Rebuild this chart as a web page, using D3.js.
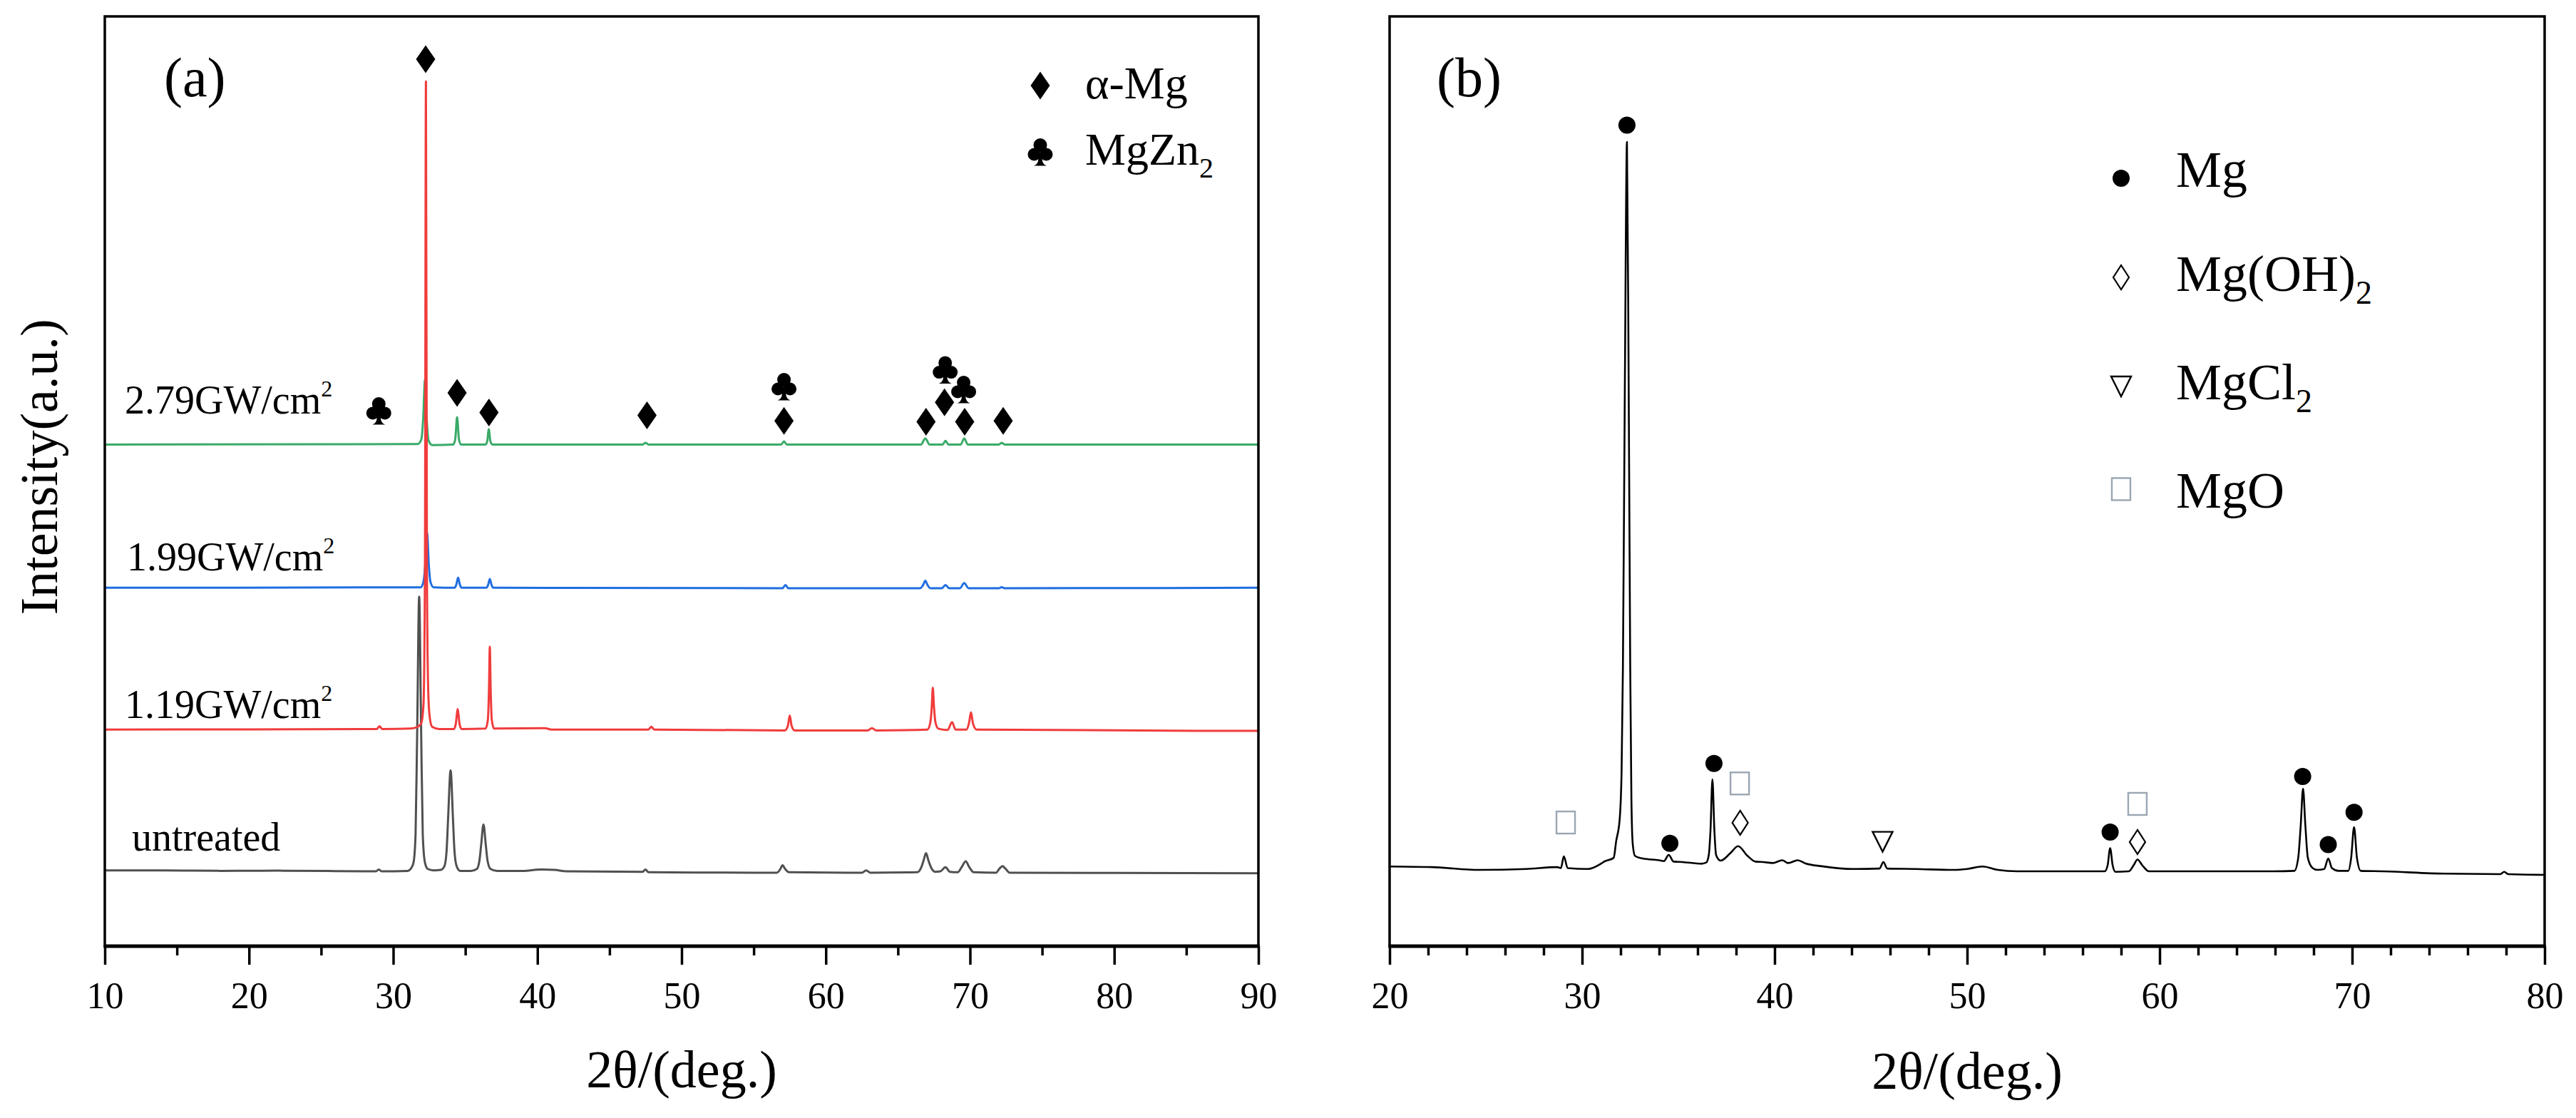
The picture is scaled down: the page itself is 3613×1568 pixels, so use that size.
<!DOCTYPE html>
<html>
<head>
<meta charset="utf-8">
<script src="https://cdn.jsdelivr.net/npm/d3@7"></script>
<style>
  body { margin: 0; background: #fff; }
  text { font-family: "Liberation Serif", "Times New Roman", serif; fill: #000; }
</style>
</head>
<body>
<div id="chart"></div>
<script>
// ---------- (a) XRD patterns, [2theta (deg), intensity (a.u., stacked as plotted)] ----------
const untreated = [[10,8.15],[14,8.15],[18,8.1],[22,8.12],[26,8.08],[28.8,8.05],[29.0,8.25],[29.2,8.05],[31.0,8.1],[31.25,8.4],[31.41,9.0],[31.55,12.0],[31.66,22.8],[31.8,37.6],[31.94,22.8],[32.05,12.0],[32.2,9.0],[32.4,8.3],[32.8,8.15],[33.3,8.2],[33.55,8.6],[33.7,10.2],[33.8,13.5],[33.98,18.9],[34.15,13.5],[34.25,10.2],[34.4,8.6],[34.65,8.1],[35.4,8.1],[35.8,8.3],[35.98,9.2],[36.1,10.9],[36.26,13.1],[36.42,10.9],[36.54,9.2],[36.75,8.3],[37.2,8.1],[39.0,8.1],[40.2,8.25],[41.2,8.2],[42.0,8.05],[47.3,8.0],[47.5,8.25],[47.7,7.95],[52,7.92],[56.6,7.9],[56.85,8.3],[57.0,8.7],[57.18,8.3],[57.45,7.95],[62.5,7.9],[62.8,8.15],[63.1,7.9],[66.35,7.95],[66.6,8.4],[66.78,9.2],[66.95,10.0],[67.12,9.2],[67.32,8.4],[67.6,8.0],[67.95,8.05],[68.3,8.5],[68.6,8.0],[69.15,7.95],[69.42,8.5],[69.7,9.13],[69.95,8.5],[70.25,7.95],[71.8,7.9],[72.05,8.35],[72.25,8.6],[72.45,8.35],[72.75,7.9],[80,7.88],[90,7.85]];
const gw119 = [[10,23.3],[20,23.32],[28.85,23.35],[29.05,23.65],[29.25,23.35],[31.2,23.4],[31.7,23.6],[31.95,24.0],[32.1,26.0],[32.2,40],[32.27,93.0],[32.34,40],[32.42,28],[32.52,24.8],[32.7,23.6],[33.2,23.35],[34.2,23.35],[34.34,23.9],[34.42,25.0],[34.47,25.5],[34.52,25.0],[34.6,23.9],[34.75,23.35],[36.4,23.4],[36.56,24.3],[36.64,27.5],[36.7,32.2],[36.76,27.5],[36.84,24.3],[37.0,23.4],[40.5,23.45],[41.0,23.3],[47.7,23.3],[47.9,23.6],[48.1,23.3],[57.15,23.2],[57.37,23.7],[57.5,24.8],[57.63,23.7],[57.85,23.2],[62.9,23.2],[63.2,23.45],[63.5,23.2],[67.05,23.3],[67.25,24.1],[67.35,25.8],[67.42,27.8],[67.5,25.8],[67.6,24.1],[67.8,23.4],[68.45,23.25],[68.75,24.1],[69.0,23.3],[69.75,23.3],[69.93,24.0],[70.07,25.15],[70.2,24.0],[70.45,23.3],[90,23.15]];
const gw199 = [[10,38.55],[31.9,38.6],[32.1,39.2],[32.22,41],[32.35,44.5],[32.47,41],[32.58,39.2],[32.8,38.6],[34.25,38.55],[34.38,38.9],[34.5,39.65],[34.62,38.9],[34.75,38.55],[36.45,38.55],[36.58,38.85],[36.7,39.5],[36.82,38.85],[36.95,38.55],[57.0,38.5],[57.2,38.85],[57.4,38.5],[66.55,38.5],[66.75,38.85],[66.9,39.3],[67.05,38.85],[67.25,38.5],[68.05,38.5],[68.3,38.85],[68.55,38.5],[69.3,38.5],[69.6,39.05],[69.9,38.5],[72.0,38.5],[72.2,38.62],[72.4,38.5],[90,38.55]];
const gw279 = [[10,53.95],[31.7,54.0],[31.95,54.5],[32.08,56.8],[32.2,60.9],[32.32,56.8],[32.45,54.4],[32.7,53.9],[34.15,53.95],[34.3,54.5],[34.43,56.9],[34.56,54.5],[34.7,53.95],[36.4,53.95],[36.52,54.3],[36.63,55.6],[36.74,54.3],[36.9,53.95],[47.3,53.95],[47.5,54.15],[47.7,53.95],[56.9,53.95],[57.1,54.3],[57.3,53.95],[66.6,53.95],[66.9,54.6],[67.2,53.95],[68.1,53.95],[68.3,54.35],[68.5,53.95],[69.35,53.95],[69.6,54.6],[69.85,53.95],[72.0,53.95],[72.2,54.15],[72.4,53.95],[90,53.95]];

const seriesA = [untreated, gw199, gw279, gw119];   // drawing order, red on top
const seriesColors = ["#505050", "#1f6ee0", "#3aaa68", "#f03c3c"];
const seriesLabels = [
  {main: "untreated", sup: ""},
  {main: "1.19GW/cm", sup: "2"},
  {main: "1.99GW/cm", sup: "2"},
  {main: "2.79GW/cm", sup: "2"}
];
const ticksA = [10, 20, 30, 40, 50, 60, 70, 80, 90];
const minorA = [15, 25, 35, 45, 55, 65, 75, 85];

// phase markers in (a): symbol, 2theta, intensity
const marksA = [
  {sym: "diamond", x: 32.25, y: 95.4},
  {sym: "club", x: 29.0, y: 57.6},
  {sym: "diamond", x: 34.43, y: 59.5},
  {sym: "diamond", x: 36.64, y: 57.4},
  {sym: "diamond", x: 47.6, y: 57.1},
  {sym: "club", x: 57.1, y: 60.2},
  {sym: "diamond", x: 57.1, y: 56.5},
  {sym: "diamond", x: 66.95, y: 56.4},
  {sym: "diamond", x: 68.23, y: 58.5},
  {sym: "club", x: 68.28, y: 62.0},
  {sym: "club", x: 69.56, y: 59.9},
  {sym: "diamond", x: 69.63, y: 56.4},
  {sym: "diamond", x: 72.3, y: 56.5}
];
const legendA = [
  {sym: "diamond", main: "\u03b1-Mg", sub: ""},
  {sym: "club", main: "MgZn", sub: "2"}
];

// ---------- (b) XRD pattern after corrosion ----------
const corroded = [[20,8.57],[22.2,8.5],[24.66,8.2],[27.1,8.3],[28.7,8.5],[28.9,8.4],[29.05,9.66],[29.25,8.4],[30.3,8.3],[31.0,8.9],[31.15,9.1],[31.64,9.5],[31.77,11.3],[31.95,13.6],[32.05,18.7],[32.12,30],[32.22,60],[32.33,86.5],[32.42,60],[32.5,30],[32.56,16],[32.63,11],[32.75,9.7],[33.15,9.43],[34.0,9.24],[34.25,9.15],[34.5,9.82],[34.75,9.1],[35.2,9.05],[36.2,8.87],[36.45,9.0],[36.58,9.8],[36.67,12.5],[36.77,17.94],[36.87,12.5],[36.96,9.8],[37.1,9.3],[37.2,9.2],[37.7,10.0],[38.1,10.75],[38.6,9.7],[39.0,9.1],[39.4,9.05],[39.9,8.94],[40.4,9.24],[40.7,8.94],[41.2,9.24],[41.6,8.9],[42.45,8.6],[44.1,8.3],[45.45,8.35],[45.65,9.05],[45.85,8.35],[47.3,8.3],[49.3,8.2],[50.0,8.3],[50.8,8.57],[51.6,8.2],[52.6,8.05],[56.2,8.05],[57.15,8.05],[57.3,8.7],[57.43,10.55],[57.56,8.7],[57.7,8.0],[58.4,8.05],[58.65,8.7],[58.85,9.32],[59.1,8.7],[59.45,8.05],[61.1,8.05],[65.9,8.05],[67.0,8.1],[67.2,9.5],[67.33,13.0],[67.45,16.95],[67.57,13.0],[67.7,9.5],[67.95,8.4],[68.2,8.2],[68.55,8.3],[68.76,9.43],[68.95,8.4],[69.3,8.1],[69.8,8.1],[69.95,9.5],[70.1,12.8],[70.25,9.5],[70.45,8.1],[71.6,8.05],[74.8,7.8],[77.7,7.75],[77.9,8.0],[78.1,7.75],[80,7.67]];
const ticksB = [20, 30, 40, 50, 60, 70, 80];
const minorB = d3.range(22, 80, 2).filter(v => v % 10 !== 0);

const marksB = [
  {sym: "square", x: 29.15, y: 13.3},
  {sym: "dot", x: 32.33, y: 88.3},
  {sym: "dot", x: 34.56, y: 11.07},
  {sym: "dot", x: 36.85, y: 19.65},
  {sym: "square", x: 38.19, y: 17.5},
  {sym: "odiamond", x: 38.21, y: 13.27},
  {sym: "triangle", x: 45.61, y: 11.3},
  {sym: "dot", x: 57.43, y: 12.27},
  {sym: "square", x: 58.85, y: 15.3},
  {sym: "odiamond", x: 58.85, y: 11.2},
  {sym: "dot", x: 67.43, y: 18.25},
  {sym: "dot", x: 68.76, y: 10.93},
  {sym: "dot", x: 70.1, y: 14.4}
];
const legendB = [
  {sym: "dot", main: "Mg", sub: ""},
  {sym: "odiamond", main: "Mg(OH)", sub: "2"},
  {sym: "triangle", main: "MgCl", sub: "2"},
  {sym: "square", main: "MgO", sub: ""}
];

(function xrdFigure(){
  const width = 3613, height = 1568;
  const pa = {left: 147, right: 1765, top: 23, bottom: 1327};
  const pb = {left: 1949, right: 3569, top: 23, bottom: 1327};

  const svg = d3.select("#chart")
    .append("svg")
    .attr("width", width)
    .attr("height", height)
    .attr("viewBox", [0, 0, width, height]);

  svg.append("rect").attr("width", width).attr("height", height).attr("fill", "#fff");

  // Scales
  const xA = d3.scaleLinear().domain([10, 90]).range([pa.left, pa.right]);
  const yA = d3.scaleLinear().domain([0, 100]).range([pa.bottom, pa.top]);
  const xB = d3.scaleLinear().domain([20, 80]).range([pb.left, pb.right]);
  const yB = d3.scaleLinear().domain([0, 100]).range([pb.bottom, pb.top]);

  // marker shapes
  const clubPath =
    "M-9.5,-9.5a9.5,9.5 0 1,0 19,0a9.5,9.5 0 1,0 -19,0Z" +
    "M-17.5,3.5a9,9 0 1,0 18,0a9,9 0 1,0 -18,0Z" +
    "M-0.5,3.5a9,9 0 1,0 18,0a9,9 0 1,0 -18,0Z" +
    "M-2,2L-3,13Q-4.5,18 -9,19.5L9,19.5Q4.5,18 3,13L2,2Z";

  function drawMark(g, sym) {
    if (sym === "diamond") {
      g.append("path").attr("d", "M0,-19.5L13.5,0L0,19.5L-13.5,0Z").attr("fill", "#000");
    } else if (sym === "club") {
      g.append("path").attr("d", clubPath).attr("fill", "#000");
    } else if (sym === "dot") {
      g.append("circle").attr("r", 12).attr("fill", "#000");
    } else if (sym === "odiamond") {
      g.append("path").attr("d", "M0,-17L11,0L0,17L-11,0Z")
        .attr("fill", "none").attr("stroke", "#000").attr("stroke-width", 2.2);
    } else if (sym === "triangle") {
      g.append("path").attr("d", "M-14,-13L14,-13L0,15Z")
        .attr("fill", "none").attr("stroke", "#000").attr("stroke-width", 2.4);
    } else if (sym === "square") {
      g.append("rect").attr("x", -13).attr("y", -15.5).attr("width", 26).attr("height", 31)
        .attr("fill", "none").attr("stroke", "#9aa6b2").attr("stroke-width", 2.4);
    }
  }

  function subText(sel, d, size, shift) {
    sel.append("tspan").text(d.main);
    if (d.sub) sel.append("tspan").attr("font-size", size).attr("dy", shift).text(d.sub);
  }

  function bottomAxis(g, x, p, majors, minors) {
    g.append("g")
      .attr("transform", `translate(0,${p.bottom})`)
      .call(d3.axisBottom(x).tickValues(minors).tickSize(13).tickFormat(""))
      .call(a => a.select(".domain").remove())
      .call(a => a.selectAll("line").attr("stroke", "#000").attr("stroke-width", 3.5));
    g.append("g")
      .attr("transform", `translate(0,${p.bottom})`)
      .call(d3.axisBottom(x).tickValues(majors).tickSize(26).tickPadding(24).tickFormat(d3.format("d")))
      .call(a => a.select(".domain").remove())
      .call(a => a.selectAll("line").attr("stroke", "#000").attr("stroke-width", 3.5))
      .call(a => a.selectAll("text").attr("font-size", 52)
        .attr("font-family", "'Liberation Serif', 'Times New Roman', serif").attr("fill", "#000"));
  }

  function frame(g, p) {
    g.append("rect")
      .attr("x", p.left).attr("y", p.top)
      .attr("width", p.right - p.left).attr("height", p.bottom - p.top)
      .attr("fill", "none").attr("stroke", "#000").attr("stroke-width", 3.5);
    g.append("line")
      .attr("x1", p.left - 1.5).attr("x2", p.right + 1.5)
      .attr("y1", p.bottom).attr("y2", p.bottom)
      .attr("stroke", "#000").attr("stroke-width", 5);
  }

  // ---------------- panel (a) ----------------
  const chartA = svg.append("g").classed("panelA", true);

  const lineA = d3.line()
    .x(d => xA(d[0]))
    .y(d => yA(d[1]))
    .curve(d3.curveMonotoneX);

  chartA.selectAll("path.series")
    .data(seriesA)
    .join("path")
    .classed("series", true)
    .attr("d", lineA)
    .attr("fill", "none")
    .attr("stroke", (d, i) => seriesColors[i])
    .attr("stroke-width", 3)
    .attr("stroke-linejoin", "round");

  frame(chartA, pa);
  bottomAxis(chartA, xA, pa, ticksA, minorA);

  chartA.selectAll("g.markA")
    .data(marksA)
    .join("g")
    .classed("markA", true)
    .attr("transform", d => `translate(${xA(d.x)},${yA(d.y)})`)
    .each(function(d) { drawMark(d3.select(this), d.sym); });

  // series labels (layout positions by eye)
  const labelPos = [[185, 1193], [175, 1007], [178, 800], [175, 580]];
  chartA.selectAll("text.slabel")
    .data(seriesLabels)
    .join("text")
    .classed("slabel", true)
    .attr("x", (d, i) => labelPos[i][0])
    .attr("y", (d, i) => labelPos[i][1])
    .attr("font-size", 56)
    .each(function(d) {
      const t = d3.select(this);
      t.append("tspan").text(d.main);
      if (d.sup) t.append("tspan").attr("font-size", 32).attr("dy", -24).text(d.sup);
    });

  chartA.append("text").attr("x", 230).attr("y", 135).attr("font-size", 78).text("(a)");

  // legend (a)
  const legA = chartA.selectAll("g.legA")
    .data(legendA)
    .join("g")
    .classed("legA", true)
    .attr("transform", (d, i) => `translate(1459,${120 + i * 93})`);
  legA.each(function(d) { drawMark(d3.select(this), d.sym); });
  legA.append("text")
    .attr("x", 63)
    .attr("y", 18)
    .attr("font-size", 64)
    .each(function(d) { subText(d3.select(this), d, 40, 18); });

  chartA.append("text")
    .attr("x", (pa.left + pa.right) / 2)
    .attr("y", 1525)
    .attr("text-anchor", "middle")
    .attr("font-size", 74)
    .text("2\u03b8/(deg.)");

  chartA.append("text")
    .attr("transform", "translate(80,655) rotate(-90)")
    .attr("text-anchor", "middle")
    .attr("font-size", 74)
    .text("Intensity(a.u.)");

  // ---------------- panel (b) ----------------
  const chartB = svg.append("g").classed("panelB", true);

  const lineB = d3.line()
    .x(d => xB(d[0]))
    .y(d => yB(d[1]))
    .curve(d3.curveMonotoneX);

  chartB.append("path")
    .datum(corroded)
    .attr("d", lineB)
    .attr("fill", "none")
    .attr("stroke", "#000")
    .attr("stroke-width", 2.6)
    .attr("stroke-linejoin", "round");

  frame(chartB, pb);
  bottomAxis(chartB, xB, pb, ticksB, minorB);

  chartB.selectAll("g.markB")
    .data(marksB)
    .join("g")
    .classed("markB", true)
    .attr("transform", d => `translate(${xB(d.x)},${yB(d.y)})`)
    .each(function(d) { drawMark(d3.select(this), d.sym); });

  chartB.append("text").attr("x", 2015).attr("y", 135).attr("font-size", 78).text("(b)");

  const legRows = [250, 389, 541, 686];
  const legBase = [262, 408, 560, 712];
  const legB = chartB.selectAll("g.legB")
    .data(legendB)
    .join("g")
    .classed("legB", true);
  legB.append("g")
    .attr("transform", (d, i) => `translate(2975,${legRows[i]})`)
    .each(function(d) { drawMark(d3.select(this), d.sym); });
  legB.append("text")
    .attr("x", 3052)
    .attr("y", (d, i) => legBase[i])
    .attr("font-size", 72)
    .each(function(d) { subText(d3.select(this), d, 46, 18); });

  chartB.append("text")
    .attr("x", (pb.left + pb.right) / 2)
    .attr("y", 1527)
    .attr("text-anchor", "middle")
    .attr("font-size", 74)
    .text("2\u03b8/(deg.)");

  return svg.node();
})();
</script>
</body>
</html>
